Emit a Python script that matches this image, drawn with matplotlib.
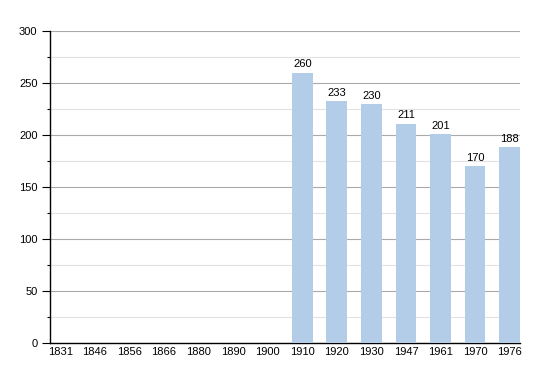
import matplotlib.pyplot as plt
import numpy as np
from matplotlib.ticker import MultipleLocator

years = ["1831", "1846", "1856", "1866", "1880", "1890", "1900",
         "1910", "1920", "1930", "1947", "1961", "1970", "1976"]
population = [np.nan, np.nan, np.nan, np.nan, np.nan, np.nan, np.nan,
              260, 233, 230, 211, 201, 170, 188]

plt.rcParams['font.family'] = ['Liberation Sans', 'DejaVu Sans']

fig = plt.figure(figsize=(5.5, 3.73), dpi=100)
ax = fig.add_axes([50 / 550, 30 / 373, 470 / 550, 312 / 373])

x = np.arange(len(years))
vals = np.array(population, dtype=float)
ax.bar(x, np.nan_to_num(vals), width=0.6, color="#b3cce8", zorder=3)

# valeurs au-dessus des barres
for xi, v in zip(x, vals):
    if not np.isnan(v):
        ax.text(xi, v + 3, f"{int(v)}", ha="center", va="bottom", fontsize=8)

ax.set_xlim(-0.3, 13.3)
ax.set_ylim(0, 300)
ax.set_xticks(x)
ax.set_xticklabels(years, fontsize=8)
ax.tick_params(axis="x", length=0, pad=3)

ax.yaxis.set_major_locator(MultipleLocator(50))
ax.yaxis.set_minor_locator(MultipleLocator(25))
ax.tick_params(axis="y", which="major", length=6, width=0.8, labelsize=8, pad=3)
ax.tick_params(axis="y", which="minor", length=2.5, width=0.8)
ax.grid(axis="y", which="major", color="#aaaaaa", linewidth=0.8, zorder=0)
ax.grid(axis="y", which="minor", color="#e2e2e2", linewidth=0.8, zorder=0)

ax.spines["top"].set_visible(False)
ax.spines["right"].set_visible(False)
ax.spines["left"].set_linewidth(1)
ax.spines["bottom"].set_linewidth(1)

fig.savefig("out.png", dpi=100)
